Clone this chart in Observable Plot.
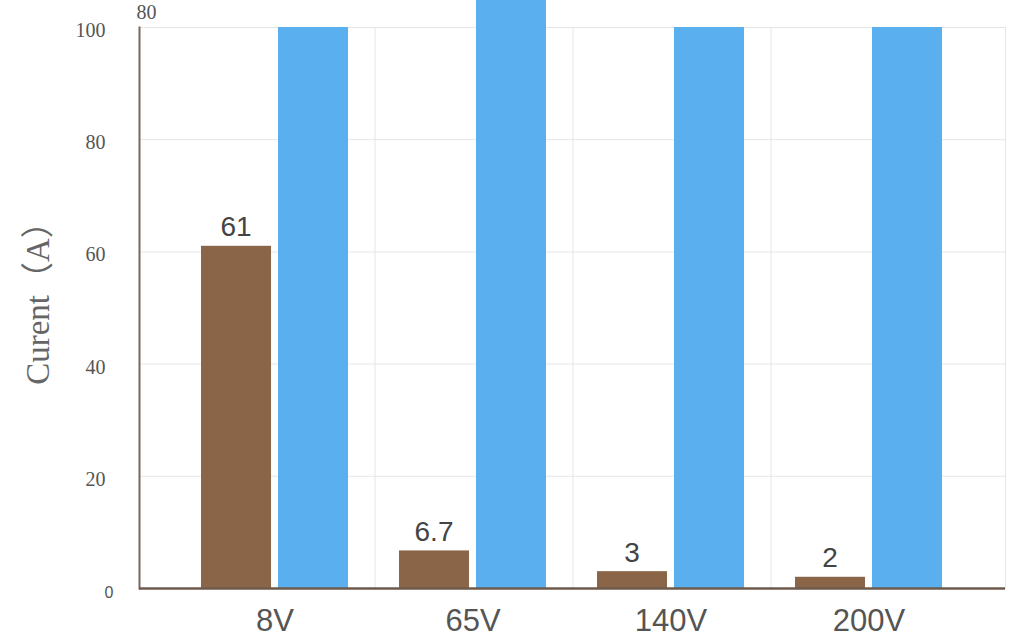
<!DOCTYPE html>
<html>
<head>
<meta charset="utf-8">
<script src="https://cdn.jsdelivr.net/npm/d3@7"></script>
<script src="https://cdn.jsdelivr.net/npm/@observablehq/plot@0.6"></script>
<style>
  html, body { margin: 0; padding: 0; background: #ffffff; }
  #chart svg { display: block; }
</style>
</head>
<body>
<div id="chart"></div>
<script>
const categories = ["8V", "65V", "140V", "200V"];
const brownValues = [61, 6.7, 3, 2];
const blueValues = [100, 105, 100, 100];
const yTicks = [20, 40, 60, 80, 100];
const yZeroTick = [0];
const topNote = ["80"];
const yLabel = ["Curent（A）"];

const brownData = categories.map((c, i) => ({cat: c, v: brownValues[i]}));
const blueData = categories.map((c, i) => ({cat: c, v: blueValues[i]}));

const chart = Plot.plot({
  width: 1024,
  height: 644,
  marginLeft: 139,
  marginRight: 19,
  marginTop: 27,
  marginBottom: 56,
  style: {background: "#ffffff", overflow: "hidden"},
  x: {domain: categories, paddingInner: 0.256, paddingOuter: 0.304, align: 0.5, axis: null, label: null},
  y: {domain: [0, 100], axis: null},
  marks: [
    Plot.gridY(yTicks, {stroke: "#e6e6e6", strokeOpacity: 1}),
    Plot.ruleX(categories.slice(1), {x: d => d, dx: -98, stroke: "#e6e6e6"}),
    Plot.frame({anchor: "right", stroke: "#e6e6e6"}),
    Plot.barY(brownData, {x: "cat", y: "v", fill: "#8a6548", insetRight: 77}),
    Plot.barY(blueData, {x: "cat", y: "v", fill: "#5aafee", insetLeft: 77}),
    Plot.text(brownData, {x: "cat", y: "v", text: d => String(d.v), dx: -39, dy: -10,
      lineAnchor: "bottom", fontSize: 28, fill: "#444", fontFamily: "Liberation Sans"}),
    Plot.frame({anchor: "left", stroke: "#7a685b", strokeWidth: 2}),
    Plot.ruleY([0], {stroke: "#6e5a4d", strokeWidth: 2.5}),
    Plot.axisX({tickSize: 0, tickPadding: 20, fontSize: 31, fill: "#555", fontFamily: "Liberation Sans", label: null}),
    Plot.axisY(yTicks, {tickSize: 0, tickPadding: 34, fontSize: 20, fill: "#555", fontFamily: "Liberation Serif", dy: 3, label: null}),
    Plot.axisY(yZeroTick, {tickSize: 0, tickPadding: 26, fontSize: 16, fill: "#555", fontFamily: "Liberation Sans", dy: 4, label: null}),
    Plot.text(topNote, {frameAnchor: "top-left", dx: -3, dy: -15, textAnchor: "start", lineAnchor: "middle",
      fontSize: 20, fill: "#555", fontFamily: "Liberation Serif"}),
    Plot.text(yLabel, {frameAnchor: "left", dx: -101, dy: -13, rotate: -90, textAnchor: "middle", lineAnchor: "middle",
      fontSize: 33, fill: "#666", fontFamily: "Liberation Serif, Noto Sans CJK SC"})
  ]
});

document.getElementById("chart").appendChild(chart);
</script>
</body>
</html>
